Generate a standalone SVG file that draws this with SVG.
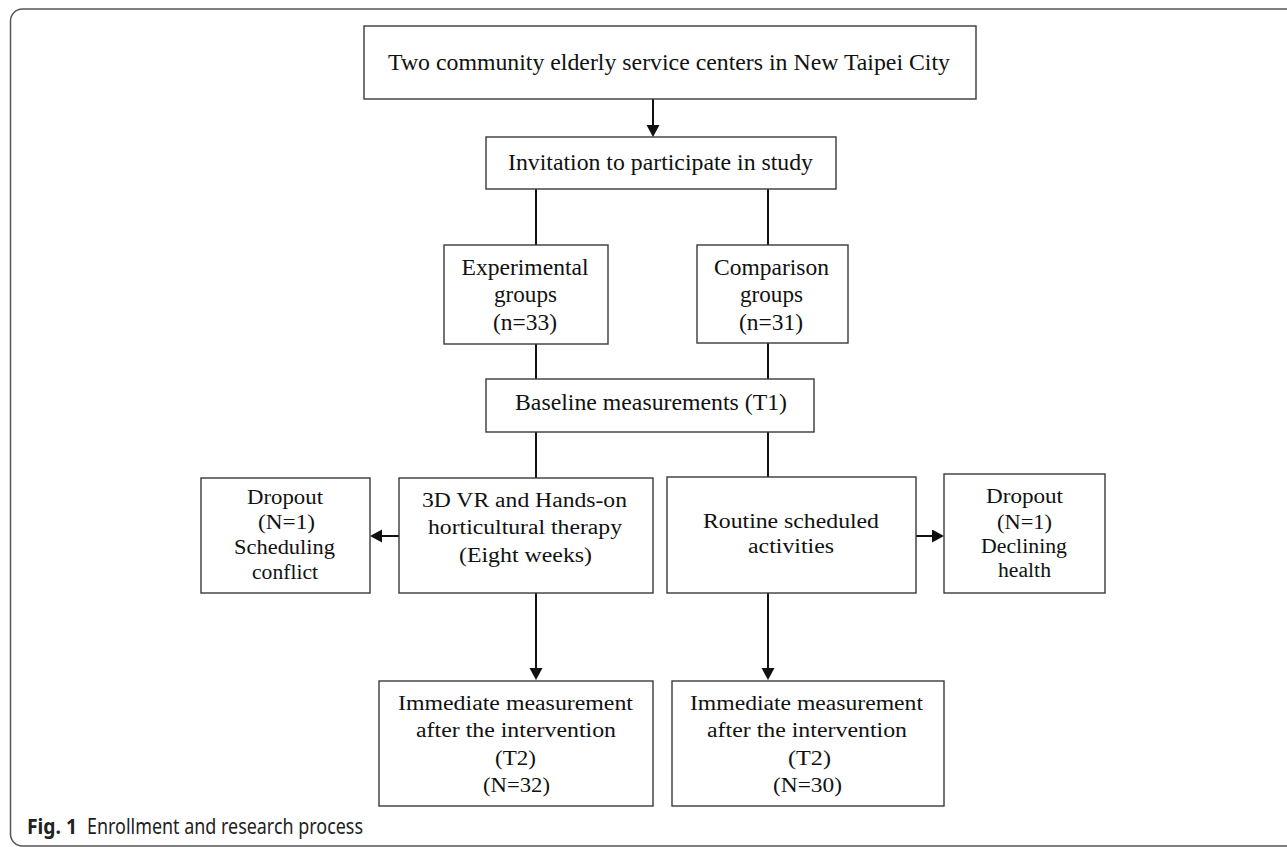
<svg xmlns="http://www.w3.org/2000/svg" width="1287" height="847" viewBox="0 0 1287 847">
<style>
.box{fill:#fff;stroke:#3a3a3a;stroke-width:1.4}
.t{font-family:"Liberation Serif","Times New Roman",serif;fill:#111;text-anchor:middle}
.l{font-size:23px}
.s{font-size:20.5px}
.c{stroke:#111;stroke-width:2;fill:none}
.cap{font-family:"Noto Sans","Liberation Sans",sans-serif;font-size:22px;fill:#222}
</style>
<defs>
<marker id="ah" markerUnits="userSpaceOnUse" markerWidth="14" markerHeight="14" refX="6" refY="6.5" orient="auto">
<path d="M0,0 L12,6.5 L0,13 z" fill="#111"/>
</marker>
</defs>
<rect x="10.5" y="9" width="1300" height="837" rx="12" fill="#fff" stroke="#555" stroke-width="1.5"/>

<g id="connectors">
<line class="c" x1="653" y1="99" x2="653" y2="131" marker-end="url(#ah)"/>
<line class="c" x1="536" y1="189" x2="536" y2="245"/>
<line class="c" x1="768" y1="189" x2="768" y2="245"/>
<line class="c" x1="536" y1="344" x2="536" y2="379"/>
<line class="c" x1="768" y1="343" x2="768" y2="379"/>
<line class="c" x1="536" y1="432" x2="536" y2="478"/>
<line class="c" x1="768" y1="432" x2="768" y2="477"/>
<line class="c" x1="536" y1="593" x2="536" y2="674" marker-end="url(#ah)"/>
<line class="c" x1="768" y1="593" x2="768" y2="674" marker-end="url(#ah)"/>
<line class="c" x1="399" y1="536" x2="376" y2="536" marker-end="url(#ah)"/>
<line class="c" x1="916" y1="536" x2="938" y2="536" marker-end="url(#ah)"/>
</g>

<g id="n-top">
<rect class="box" x="364" y="26" width="612" height="73"/>
<text class="t l" x="669" y="70" textLength="562" lengthAdjust="spacingAndGlyphs">Two community elderly service centers in New Taipei City</text>
</g>

<g id="n-invite">
<rect class="box" x="486" y="137" width="350" height="52"/>
<text class="t l" x="660.5" y="170" textLength="305" lengthAdjust="spacingAndGlyphs">Invitation to participate in study</text>
</g>

<g id="n-exp">
<rect class="box" x="444" y="245" width="164" height="99"/>
<text class="t l" x="525" y="275" textLength="127" lengthAdjust="spacingAndGlyphs">Experimental</text>
<text class="t l" x="525.5" y="302" textLength="63" lengthAdjust="spacingAndGlyphs">groups</text>
<text class="t l" x="525" y="330" textLength="64" lengthAdjust="spacingAndGlyphs">(n=33)</text>
</g>

<g id="n-comp">
<rect class="box" x="697" y="245" width="151" height="98"/>
<text class="t l" x="771.5" y="275" textLength="115" lengthAdjust="spacingAndGlyphs">Comparison</text>
<text class="t l" x="771.5" y="302" textLength="63" lengthAdjust="spacingAndGlyphs">groups</text>
<text class="t l" x="771" y="330" textLength="64" lengthAdjust="spacingAndGlyphs">(n=31)</text>
</g>

<g id="n-baseline">
<rect class="box" x="486" y="379" width="328" height="53"/>
<text class="t l" x="651" y="410" textLength="272" lengthAdjust="spacingAndGlyphs">Baseline measurements (T1)</text>
</g>

<g id="n-drop-left">
<rect class="box" x="201" y="478" width="169" height="115"/>
<text class="t s" x="285" y="504" textLength="76" lengthAdjust="spacingAndGlyphs">Dropout</text>
<text class="t s" x="286.5" y="529" textLength="57" lengthAdjust="spacingAndGlyphs">(N=1)</text>
<text class="t s" x="284.5" y="554" textLength="101" lengthAdjust="spacingAndGlyphs">Scheduling</text>
<text class="t s" x="285" y="579" textLength="66" lengthAdjust="spacingAndGlyphs">conflict</text>
</g>

<g id="n-vr">
<rect class="box" x="399" y="478" width="254" height="115"/>
<text class="t s" x="524.5" y="507" textLength="205" lengthAdjust="spacingAndGlyphs">3D VR and Hands-on</text>
<text class="t s" x="525" y="534" textLength="194" lengthAdjust="spacingAndGlyphs">horticultural therapy</text>
<text class="t s" x="525.5" y="562" textLength="133" lengthAdjust="spacingAndGlyphs">(Eight weeks)</text>
</g>

<g id="n-routine">
<rect class="box" x="667" y="477" width="249" height="116"/>
<text class="t s" x="791" y="528" textLength="176" lengthAdjust="spacingAndGlyphs">Routine scheduled</text>
<text class="t s" x="791" y="553" textLength="86" lengthAdjust="spacingAndGlyphs">activities</text>
</g>

<g id="n-drop-right">
<rect class="box" x="944" y="474" width="161" height="119"/>
<text class="t s" x="1024.5" y="503" textLength="77" lengthAdjust="spacingAndGlyphs">Dropout</text>
<text class="t s" x="1024.5" y="529" textLength="55" lengthAdjust="spacingAndGlyphs">(N=1)</text>
<text class="t s" x="1024" y="553" textLength="86" lengthAdjust="spacingAndGlyphs">Declining</text>
<text class="t s" x="1024.5" y="577" textLength="53" lengthAdjust="spacingAndGlyphs">health</text>
</g>

<g id="n-t2-left">
<rect class="box" x="379" y="681" width="274" height="125"/>
<text class="t s" x="515.5" y="710" textLength="235" lengthAdjust="spacingAndGlyphs">Immediate measurement</text>
<text class="t s" x="516" y="737" textLength="200" lengthAdjust="spacingAndGlyphs">after the intervention</text>
<text class="t s" x="515.5" y="765" textLength="41" lengthAdjust="spacingAndGlyphs">(T2)</text>
<text class="t s" x="516.5" y="792" textLength="67" lengthAdjust="spacingAndGlyphs">(N=32)</text>
</g>

<g id="n-t2-right">
<rect class="box" x="672" y="681" width="272" height="125"/>
<text class="t s" x="806.5" y="710" textLength="233" lengthAdjust="spacingAndGlyphs">Immediate measurement</text>
<text class="t s" x="807" y="737" textLength="200" lengthAdjust="spacingAndGlyphs">after the intervention</text>
<text class="t s" x="809.5" y="765" textLength="43" lengthAdjust="spacingAndGlyphs">(T2)</text>
<text class="t s" x="807.5" y="792" textLength="69" lengthAdjust="spacingAndGlyphs">(N=30)</text>
</g>

<g id="caption">
<text class="cap" x="27" y="834" font-weight="bold" textLength="50" lengthAdjust="spacingAndGlyphs">Fig. 1</text>
<text class="cap" x="87" y="834" textLength="276" lengthAdjust="spacingAndGlyphs">Enrollment and research process</text>
</g>
</svg>
